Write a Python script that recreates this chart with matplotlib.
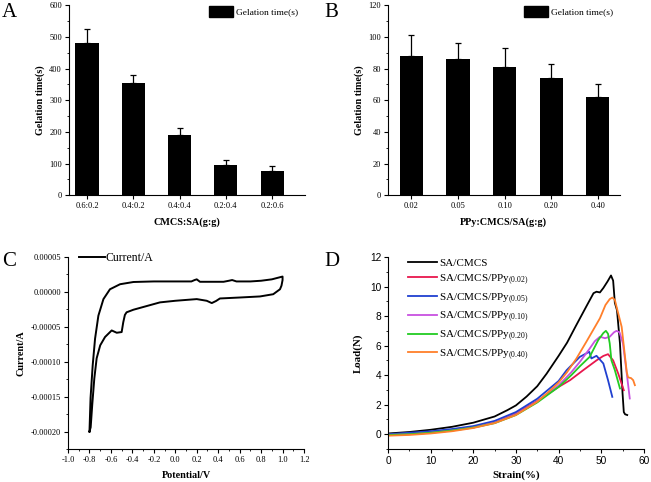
import matplotlib
matplotlib.use("Agg")
import matplotlib.pyplot as plt
from matplotlib.patches import Patch
from matplotlib.ticker import MultipleLocator, FuncFormatter

plt.rcParams['font.family'] = ['Liberation Serif', 'DejaVu Serif']
plt.rcParams['mathtext.fontset'] = 'custom'
plt.rcParams['mathtext.rm'] = 'Liberation Serif'

# ---- data ----
ratio_labels = ["0.6:0.2", "0.4:0.2", "0.4:0.4", "0.2:0.4", "0.2:0.6"]
ratio_time = [480, 353, 190, 95, 78]
ratio_err = [45, 27, 22, 15, 13]

ppy_labels = ["0.02", "0.05", "0.10", "0.20", "0.40"]
ppy_time = [88, 86, 81, 74, 62]
ppy_err = [13, 10, 12, 9, 8]

# cyclic voltammogram (current in 1e-5 A)
cv_fwd_v = [-0.80, -0.79, -0.77, -0.748, -0.717, -0.67, -0.609, -0.515, -0.39, -0.2, 0.0,
            0.15, 0.18, 0.2, 0.23, 0.3, 0.45, 0.5, 0.53, 0.57, 0.7, 0.8, 0.9, 1.0]
cv_fwd_i = [-20, -15.2, -10.5, -6.7, -3.4, -1.03, 0.38, 1.1, 1.42, 1.5, 1.5,
            1.5, 1.7, 1.8, 1.45, 1.45, 1.45, 1.6, 1.7, 1.5, 1.5, 1.6, 1.8, 2.2]
cv_rev_v = [1.0, 0.99, 0.976, 0.913, 0.79, 0.603, 0.416, 0.38, 0.34, 0.293, 0.2, 0.0,
            -0.143, -0.39, -0.454, -0.47, -0.485, -0.5, -0.546, -0.593, -0.655,
            -0.70, -0.733, -0.755, -0.774, -0.789, -0.80]
cv_rev_i = [1.7, 0.9, 0.38, -0.33, -0.65, -0.8, -0.94, -1.3, -1.6, -1.27, -1.03, -1.27,
            -1.5, -2.55, -2.92, -3.3, -4.34, -5.75, -5.85, -5.52, -6.46,
            -7.65, -9.5, -12.4, -16.1, -19.4, -20]

# tensile curves: strain (%), load (N)
strain_0 = [0, 5, 10, 15, 20, 25, 28, 30, 32.5, 35, 37.2, 40, 42, 44, 46.6, 48.2, 48.9, 49.7,
            50.5, 51.5, 52.3, 52.8, 53.2, 53.7, 54.4, 55.0, 55.3, 55.6, 56.1]
load_0 = [0.05, 0.15, 0.3, 0.5, 0.78, 1.2, 1.63, 1.95, 2.55, 3.25, 4.1, 5.3, 6.2, 7.3, 8.7,
          9.55, 9.65, 9.6, 9.9, 10.35, 10.75, 10.4, 8.9, 8.4, 6.15, 2.8, 1.5, 1.35, 1.3]
strain_02 = [0, 5, 10, 15, 20, 25, 30, 35, 40, 42.7, 45.8, 48.9, 50.5, 51.6, 52.8, 54.0, 55.3]
load_02 = [0.0, 0.05, 0.15, 0.3, 0.5, 0.8, 1.4, 2.25, 3.2, 3.66, 4.34, 5.0, 5.3, 5.42, 5.0, 4.1, 2.98]
strain_05 = [0, 5, 10, 15, 20, 25, 30, 35, 40, 41.9, 45, 47.2, 47.7, 48.9, 50.5, 51.6, 52.6]
load_05 = [0.0, 0.1, 0.2, 0.35, 0.55, 0.9, 1.5, 2.4, 3.6, 4.34, 5.24, 5.58, 5.13, 5.31, 4.79, 3.66, 2.53]
strain_10 = [0, 5, 10, 15, 20, 25, 30, 35, 40, 43, 45, 47.3, 48.5, 49.7, 50.9, 52, 53, 53.6,
             54.3, 55.1, 55.9, 56.7]
load_10 = [-0.05, 0.0, 0.1, 0.25, 0.45, 0.78, 1.35, 2.2, 3.3, 4.2, 4.9, 5.8, 6.3, 6.6, 6.5, 6.6,
           6.9, 7.0, 6.9, 6.15, 4.34, 2.42]
strain_20 = [0, 5, 10, 15, 20, 25, 30, 35, 40, 43, 45, 47.3, 49.3, 50.5, 51.1, 51.6, 52.0, 52.4,
             53.2, 54.4]
load_20 = [-0.05, 0.0, 0.1, 0.25, 0.45, 0.75, 1.3, 2.15, 3.2, 4.0, 4.6, 5.24, 6.37, 6.85, 7.0,
           6.8, 6.15, 5.0, 4.34, 3.1]
strain_40 = [0, 5, 10, 15, 20, 25, 30, 35, 38, 40, 42, 44.2, 46.6, 48, 49.7, 51, 52, 52.6, 53.2,
             53.6, 54.8, 55.5, 56.0, 56.3, 57.0, 57.5, 57.9]
load_40 = [-0.1, -0.05, 0.05, 0.2, 0.42, 0.75, 1.3, 2.2, 2.95, 3.5, 4.2, 5.13, 6.3, 7.0, 7.85,
           8.75, 9.15, 9.25, 9.1, 8.63, 7.27, 5.47, 4.2, 3.85, 3.8, 3.66, 3.32]

fig = plt.figure(figsize=(6.51, 4.82), dpi=100)

tick_fs = 6
lab_fs = 7.3


def style(ax):
    ax.spines['top'].set_visible(False)
    ax.spines['right'].set_visible(False)
    ax.tick_params(direction='out', length=3, width=0.8, labelsize=tick_fs, pad=2)
    ax.tick_params(which='minor', direction='out', length=1.5, width=0.6)


def bar_panel(rect, labels, vals, errs, ymax, ystep, xlabel, xlim):
    ax = fig.add_axes(rect)
    pos = range(1, len(vals) + 1)
    ax.bar(pos, vals, width=0.5, color='black',
           yerr=[[0] * len(errs), errs], capsize=2.5,
           error_kw=dict(elinewidth=0.9, capthick=0.9, ecolor='black'))
    ax.set_xlim(*xlim)
    ax.set_ylim(0, ymax)
    ax.set_xticks(list(pos))
    ax.set_xticklabels(labels)
    ax.yaxis.set_major_locator(MultipleLocator(ystep))
    ax.yaxis.set_minor_locator(MultipleLocator(ystep / 2))
    style(ax)
    ax.set_xlabel(xlabel, fontsize=lab_fs, fontweight='bold', labelpad=5)
    ax.set_ylabel("Gelation time(s)", fontsize=lab_fs, fontweight='bold', labelpad=3)
    ax.legend(handles=[Patch(color='black', label='Gelation time(s)')], loc='upper right',
              frameon=False, fontsize=6.8, handlelength=2.6, handleheight=1.3,
              handletextpad=0.3, bbox_to_anchor=(1.0, 1.03), borderaxespad=0.3)
    return ax


bar_panel([0.106, 0.595, 0.3625, 0.394], ratio_labels, ratio_time, ratio_err,
          600, 100, "CMCS:SA(g:g)", (0.61, 5.71))
bar_panel([0.596, 0.595, 0.356, 0.394], ppy_labels, ppy_time, ppy_err,
          120, 20, "PPy:CMCS/SA(g:g)", (0.5, 5.47))

# ---- C ----
axc = fig.add_axes([0.1045, 0.0685, 0.3625, 0.3983])
axc.plot(cv_fwd_v + cv_rev_v, [v * 1e-5 for v in cv_fwd_i + cv_rev_i],
         color='black', lw=1.4, label='Current/A')
axc.set_xlim(-1.0, 1.2)
axc.set_ylim(-0.000225, 0.00005)
axc.xaxis.set_major_locator(MultipleLocator(0.2))
axc.xaxis.set_minor_locator(MultipleLocator(0.1))
axc.yaxis.set_major_locator(MultipleLocator(0.00005))
axc.yaxis.set_minor_locator(MultipleLocator(0.000025))
axc.yaxis.set_major_formatter(FuncFormatter(lambda v, p: "%.5f" % (0.0 if abs(v) < 1e-9 else v)))
axc.xaxis.set_major_formatter(FuncFormatter(lambda v, p: "%.1f" % (0.0 if abs(v) < 1e-9 else v)))
style(axc)
axc.set_xlabel("Potential/V", fontsize=lab_fs, fontweight='bold', labelpad=5)
axc.set_ylabel("Current/A", fontsize=lab_fs, fontweight='bold', labelpad=4)
axc.legend(loc='upper left', frameon=False, fontsize=8.5, handlelength=2.2,
           bbox_to_anchor=(0.0, 1.08), handletextpad=0.1)

# ---- D ----
axd = fig.add_axes([0.596, 0.0685, 0.393, 0.3983])
series = [
    (strain_0, load_0, 'black', 'SA/CMCS'),
    (strain_02, load_02, '#e8174d', 'SA/CMCS/PPy$_{(0.02)}$'),
    (strain_05, load_05, '#2040d0', 'SA/CMCS/PPy$_{(0.05)}$'),
    (strain_10, load_10, '#c850e0', 'SA/CMCS/PPy$_{(0.10)}$'),
    (strain_20, load_20, '#22cc22', 'SA/CMCS/PPy$_{(0.20)}$'),
    (strain_40, load_40, '#ff7f2a', 'SA/CMCS/PPy$_{(0.40)}$'),
]
for xs, ys, c, lab in series:
    axd.plot(xs, ys, color=c, lw=1.3, label=lab)
axd.set_xlim(0, 60)
axd.set_ylim(-1, 12)
axd.xaxis.set_major_locator(MultipleLocator(10))
axd.xaxis.set_minor_locator(MultipleLocator(5))
axd.yaxis.set_major_locator(MultipleLocator(2))
axd.yaxis.set_minor_locator(MultipleLocator(1))
style(axd)
for t in axd.get_xticklabels() + axd.get_yticklabels():
    t.set_family(['Liberation Sans', 'DejaVu Sans'])
    t.set_fontsize(7.3)
axd.set_xlabel("Strain(%)", fontsize=lab_fs + 0.5, fontweight='bold', labelpad=3)
axd.set_ylabel("Load(N)", fontsize=lab_fs + 0.5, fontweight='bold', labelpad=5)
axd.legend(loc='upper left', frameon=False, fontsize=8, handlelength=2.6,
           bbox_to_anchor=(0.04, 1.045), labelspacing=0.4, handletextpad=0.2)

# panel letters
for x, y, s in [(0.002, 0.993, 'A'), (0.499, 0.993, 'B'), (0.003, 0.478, 'C'), (0.498, 0.478, 'D')]:
    fig.text(x, y, s, fontsize=15, va='top', ha='left')

fig.savefig("out.png", dpi=100)
